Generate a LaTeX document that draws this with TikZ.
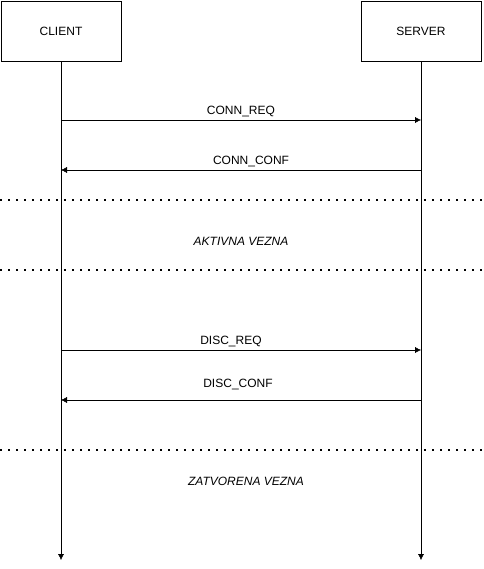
\documentclass[tikz,border=0pt]{standalone}
\usepackage{fontspec}
\setmainfont{Liberation Sans}
\usetikzlibrary{arrows.meta, positioning}
\tikzset{
    party/.style={draw, minimum width=120pt, minimum height=60pt, font=\fontsize{12}{14}\selectfont},
    msg/.style={-{Latex[length=6pt,width=6pt]}},
    phase/.style={dash pattern=on 1.6pt off 6.4pt, line width=1.6pt},
    lbl/.style={font=\fontsize{12}{14}\selectfont},
}

\begin{document}
\begin{tikzpicture}[x=1pt, y=-1pt]
    \useasboundingbox (0, 0) rectangle (483, 569);

    \node[party] (client) at (61, 31) {CLIENT};
    \node[party] (server) at (421, 31) {SERVER};
    \coordinate (cend) at (61, 560);
    \coordinate (send) at (421, 560);

    \draw
    (client) edge[msg] (cend)
    (server) edge[msg] (send);

    % messages
    \coordinate (c1) at (61, 120);   \coordinate (s1) at (421, 120);
    \coordinate (c2) at (61, 170);   \coordinate (s2) at (421, 170);
    \coordinate (c3) at (61, 350);   \coordinate (s3) at (421, 350);
    \coordinate (c4) at (61, 400);   \coordinate (s4) at (421, 400);

    \draw
    (c1) edge[msg] node[lbl, above=0pt] (req) {CONN\_REQ} (s1)
    (s2) edge[msg] node[lbl, above=0pt, xshift=10pt] (conf) {CONN\_CONF} (c2)
    (c3) edge[msg] node[lbl, above=0pt, xshift=-10pt] (dreq) {DISC\_REQ} (s3)
    (s4) edge[msg] node[lbl, above=7pt, xshift=-3pt] (dconf) {DISC\_CONF} (c4);

    % phases
    \draw[phase] (0, 200) -- (483, 200);
    \draw[phase] (0, 270) -- (483, 270);
    \draw[phase] (0, 450) -- (483, 450);
    \node[lbl, font=\fontsize{12}{14}\selectfont\itshape] (active) at (241, 241) {AKTIVNA VEZNA};
    \node[lbl, font=\fontsize{12}{14}\selectfont\itshape] (closed) at (246, 481) {ZATVORENA VEZNA};
\end{tikzpicture}
\end{document}
